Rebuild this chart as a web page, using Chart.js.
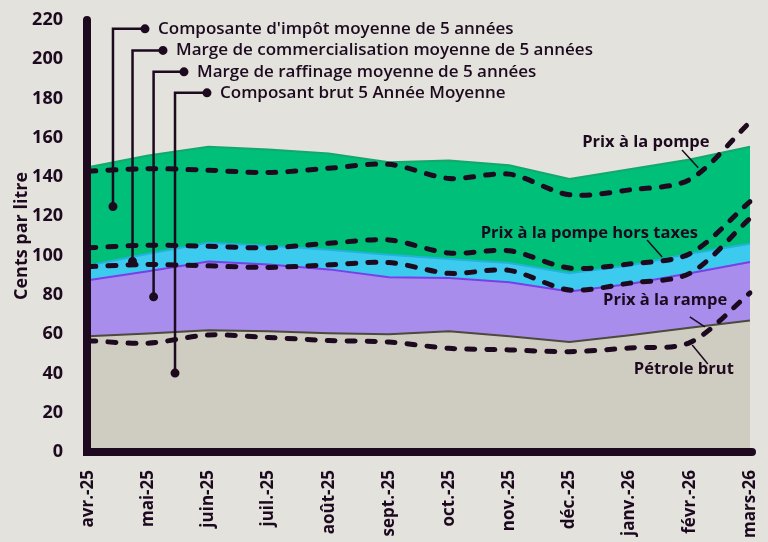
<!DOCTYPE html>
<html lang="fr">
<head>
    <meta charset="UTF-8">
    <title>Prix de l'essence</title>
    <script src="https://cdn.jsdelivr.net/npm/chart.js"></script>
    <style>
        body {
            margin: 0;
            background-color: #e3e2dd;
        }
        #wrap {
            width: 768px;
            height: 542px;
        }
    </style>
</head>
<body>
    <div id="wrap"><canvas id="priceChart" width="768" height="542"></canvas></div>

    <script>
        // Mois
        const months = ['avr.-25', 'mai-25', 'juin-25', 'juil.-25', 'août-25', 'sept.-25',
                        'oct.-25', 'nov.-25', 'déc.-25', 'janv.-26', 'févr.-26', 'mars-26'];

        // Niveaux cumulés (cents par litre)
        const crude  = [59, 60.3, 62, 61.5, 60.5, 60, 61.5, 59, 56, 59.5, 63.3, 67];
        const rack   = [87.5, 92, 97, 95.5, 93, 89, 88.6, 86.5, 81.7, 85.5, 91, 96.8];
        const preTax = [95, 101, 106.5, 105, 103, 100.5, 98.3, 96.3, 91, 95, 101, 106];
        const pump   = [145, 151, 155.5, 154, 152, 147.5, 148.5, 146, 139, 144, 149, 155.5];

        // Moyennes sur 5 ans
        const taxAvg       = [143, 144.3, 143.5, 142.3, 144.5, 146.5, 139.3, 141.5, 131, 133.5, 138.8, 168];
        const marketingAvg = [104, 105.3, 104.8, 104, 106.3, 108, 101.3, 102.5, 93.7, 95.8, 101, 127.5];
        const refiningAvg  = [94.4, 95.5, 94.8, 94, 95.3, 96.5, 91, 92.5, 82.5, 86, 91, 119];
        const crudeAvg     = [56.7, 55.4, 59.6, 58.3, 56.8, 56, 52.8, 52, 51.1, 53, 55.7, 81];

        const yMax = 220;
        const dark = '#1d0a1f';

        // leader labels (index / valeur sur les échelles)
        const avgNotes = [
            { text: "Composante d'impôt moyenne de 5 années", x: 0.415, dotX: 0.947, top: 215.5, bottom: 125 },
            { text: 'Marge de commercialisation moyenne de 5 années', x: 0.74, dotX: 1.246, top: 204.5, bottom: 97 },
            { text: 'Marge de raffinage moyenne de 5 années', x: 1.09, dotX: 1.595, top: 193.6, bottom: 79 },
            { text: 'Composant brut 5 Année Moyenne', x: 1.446, dotX: 1.977, top: 182.9, bottom: 40.2 }
        ];
        const seriesNotes = [
            { text: 'Prix à la pompe', x: 9.27, y: 157.9, from: [9.87, 153.8], to: [10.14, 144.7] },
            { text: 'Prix à la pompe hors taxes', x: 8.33, y: 111.6, from: [9.29, 108], to: [9.54, 99.3] },
            { text: 'Prix à la rampe', x: 9.59, y: 77.4, from: [10.0, 68.8], to: [10.25, 63.7] },
            { text: 'Pétrole brut', x: 9.9, y: 42.3, from: [10.04, 54.5], to: [10.3, 44.8] }
        ];

        function avgLine(values) {
            return {
                data: values,
                borderColor: dark,
                borderWidth: 5,
                borderDash: [8, 12],
                borderCapStyle: 'round',
                tension: 0.3,
                pointRadius: 0,
                fill: false
            };
        }

        function area(values, fill, bg, border) {
            return {
                data: values,
                backgroundColor: bg,
                borderColor: border,
                borderWidth: 2,
                tension: 0,
                pointRadius: 0,
                fill: fill
            };
        }

        const annotate = {
            id: 'annotate',
            afterDatasetsDraw(chart) {
                const ctx = chart.ctx;
                const xs = chart.scales.x, ys = chart.scales.y;
                ctx.save();
                ctx.strokeStyle = dark;
                ctx.fillStyle = dark;

                // notes des moyennes
                ctx.lineWidth = 2.5;
                ctx.font = '600 17px "Open Sans"';
                ctx.textBaseline = 'middle';
                ctx.textAlign = 'left';
                avgNotes.forEach(n => {
                    const x = xs.getPixelForValue(n.x);
                    const dx = xs.getPixelForValue(n.dotX);
                    const yt = ys.getPixelForValue(n.top);
                    const yb = ys.getPixelForValue(n.bottom);
                    ctx.beginPath();
                    ctx.moveTo(dx, yt);
                    ctx.lineTo(x, yt);
                    ctx.lineTo(x, yb);
                    ctx.stroke();
                    ctx.beginPath();
                    ctx.arc(dx, yt, 4.5, 0, Math.PI * 2);
                    ctx.arc(x, yb, 4.5, 0, Math.PI * 2);
                    ctx.fill();
                    ctx.fillText(n.text, dx + 13, yt);
                });

                // étiquettes des séries
                ctx.lineWidth = 1.5;
                ctx.font = 'bold 16.5px "Open Sans"';
                ctx.textAlign = 'center';
                seriesNotes.forEach(n => {
                    ctx.fillText(n.text, xs.getPixelForValue(n.x), ys.getPixelForValue(n.y));
                    ctx.beginPath();
                    ctx.moveTo(xs.getPixelForValue(n.from[0]), ys.getPixelForValue(n.from[1]));
                    ctx.lineTo(xs.getPixelForValue(n.to[0]), ys.getPixelForValue(n.to[1]));
                    ctx.stroke();
                });

                // axes épais
                const a = chart.chartArea;
                ctx.lineWidth = 8;
                ctx.lineCap = 'round';
                ctx.beginPath();
                ctx.moveTo(a.left - 1, ys.getPixelForValue(yMax));
                ctx.lineTo(a.left - 1, a.bottom);
                ctx.lineTo(a.right + 2, a.bottom);
                ctx.stroke();
                ctx.restore();
            }
        };

        const config = {
            type: 'line',
            data: {
                labels: months,
                datasets: [
                    avgLine(taxAvg),
                    avgLine(marketingAvg),
                    avgLine(refiningAvg),
                    avgLine(crudeAvg),
                    area(crude, 'origin', '#cfcdc2', '#4b4a3c'),
                    area(rack, '-1', '#a98ded', '#7a3fe6'),
                    area(preTax, '-1', '#3ccaef', '#22b3dc'),
                    area(pump, '-1', '#00bf78', '#14a86c')
                ]
            },
            options: {
                responsive: false,
                animation: false,
                layout: { padding: { top: 20, right: 18, left: 0, bottom: 0 } },
                plugins: {
                    legend: { display: false },
                    tooltip: { enabled: false }
                },
                scales: {
                    x: {
                        grid: { display: false, drawTicks: false },
                        border: { display: false },
                        ticks: {
                            color: dark,
                            font: { family: 'Open Sans', weight: 'bold', size: 17 },
                            minRotation: 90,
                            maxRotation: 90,
                            padding: 18,
                            autoSkip: false
                        },
                        afterFit(s) {
                            s.height = 90;
                            s.paddingLeft = 0;
                            s.paddingRight = 0;
                        }
                    },
                    y: {
                        min: 0,
                        max: yMax,
                        grid: { display: false, drawTicks: false },
                        border: { display: false },
                        ticks: {
                            stepSize: 20,
                            color: dark,
                            font: { family: 'Open Sans', weight: 'bold', size: 18 },
                            padding: 25
                        },
                        title: {
                            display: true,
                            text: 'Cents par litre',
                            color: dark,
                            font: { family: 'Open Sans', weight: 'bold', size: 18 },
                            padding: { top: 11, bottom: 0 }
                        },
                        afterFit(s) {
                            s.width = 88;
                            s.paddingTop = 0;
                            s.paddingBottom = 0;
                        }
                    }
                }
            },
            plugins: [annotate]
        };

        const priceChart = new Chart(document.getElementById('priceChart'), config);
    </script>
</body>
</html>
